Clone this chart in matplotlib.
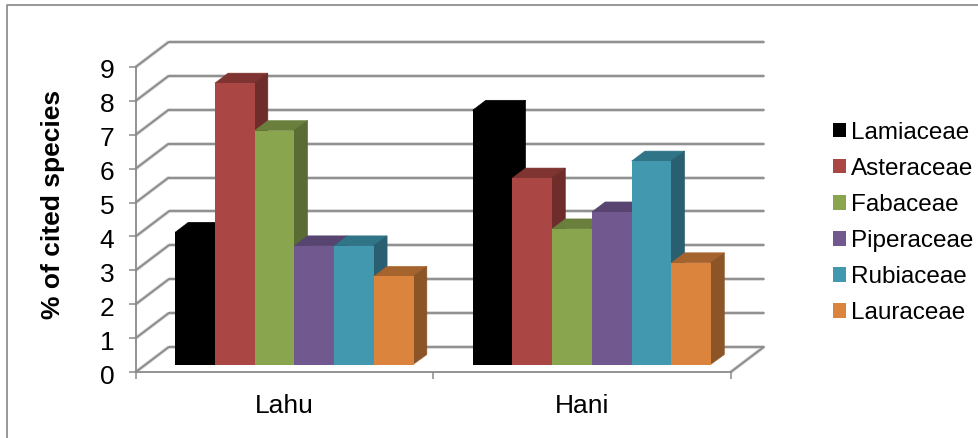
import matplotlib
matplotlib.use("Agg")
import matplotlib.pyplot as plt
from matplotlib.lines import Line2D
from matplotlib.transforms import ScaledTranslation

plt.rcParams["font.family"] = ["Liberation Sans", "DejaVu Sans"]

# Data
groups = ["Lahu", "Hani"]
families = ["Lamiaceae", "Asteraceae", "Fabaceae", "Piperaceae", "Rubiaceae", "Lauraceae"]
lamiaceae = [3.9, 7.5]
asteraceae = [8.3, 5.5]
fabaceae = [6.9, 4.0]
piperaceae = [3.5, 4.5]
rubiaceae = [3.5, 6.0]
lauraceae = [2.6, 3.0]
series = [lamiaceae, asteraceae, fabaceae, piperaceae, rubiaceae, lauraceae]
y_ticks = list(range(10))

# Face colours: front, top, side
front = ["#000000", "#AA4643", "#89A54E", "#71588F", "#4198AF", "#DB843D"]
top = ["#000000", "#803432", "#6A7F3C", "#574470", "#307488", "#A5632E"]
side = ["#000000", "#6E2C2A", "#5A6B33", "#4A3A60", "#295F70", "#8B5528"]

GRID = "#8A8A8A"
GRID_SOFT = "#D4D4D4"

W, H = 979, 438
PX_PER_GROUP = 297.5
PX_PER_UNIT = 33.9
X0, Y0 = 284.5, 372.0

# Oblique projection of the depth axis, in data units
DEPTH_X = 33.0 / PX_PER_GROUP
DEPTH_Y = 25.0 / PX_PER_UNIT
BAR_NEAR, BAR_FAR = 0.3, 0.7
BAR_W = 39.75 / PX_PER_GROUP


def project(x, v, d):
    return x + d * DEPTH_X, v + d * DEPTH_Y


fig = plt.figure(figsize=(W / 100, H / 100), dpi=100, facecolor="white")
ax = fig.add_axes([0, 0, 1, 1])
ax.set_xlim(-X0 / PX_PER_GROUP, (W - X0) / PX_PER_GROUP)
ax.set_ylim((Y0 - H) / PX_PER_UNIT, Y0 / PX_PER_UNIT)
ax.patch.set_visible(False)

left, right = -0.5, 1.5


def wall_line(xs, ys):
    ax.plot(xs, ys, color=GRID_SOFT, lw=2.6, zorder=1, solid_capstyle="butt")
    ax.plot(xs, ys, color=GRID, lw=1.3, zorder=1.1, solid_capstyle="round")


# Back wall gridlines and their run along the side wall
for v in y_ticks:
    bx0, by = project(left, v, 1)
    bx1, _ = project(right, v, 1)
    wall_line([left, bx0], [v, by])
    wall_line([bx0, bx1], [by, by])
# Floor edge on the right
fx, fy = project(right, 0, 1)
wall_line([right, fx], [0, fy])

# Bars: each one is a front face with top and side faces behind it
handles = []
n = len(series)
for i, (vals, fc, tc, sc) in enumerate(zip(series, front, top, side)):
    z = 2 + i
    for g, v in enumerate(vals):
        cx = g + (i - (n - 1) / 2) * BAR_W
        x0 = cx - BAR_W / 2
        x1 = cx + BAR_W / 2
        _, base_y = project(x0, 0, BAR_NEAR)
        fx0, top_y = project(x0, v, BAR_NEAR)
        fx1, _ = project(x1, v, BAR_NEAR)
        bx0, back_top = project(x0, v, BAR_FAR)
        bx1, back_base = project(x1, 0, BAR_FAR)
        ax.fill([fx0, bx0, bx1, fx1], [top_y, back_top, back_top, top_y],
                facecolor=tc, edgecolor=tc, lw=0.4, zorder=z)
        # The side face starts just inside the front face so no seam shows
        inner = fx1 - 0.6 / PX_PER_GROUP
        ax.fill([inner, bx1, bx1, inner], [top_y, back_top, back_base, base_y],
                facecolor=sc, edgecolor=sc, lw=0.4, zorder=z)
    xs = [g + (i - (n - 1) / 2) * BAR_W + BAR_NEAR * DEPTH_X for g in range(len(vals))]
    bars = ax.bar(xs, vals, width=BAR_W, bottom=BAR_NEAR * DEPTH_Y, color=fc, lw=0,
                  zorder=z + 0.5, label=families[i])
    handles.append(bars)

# Axes
for name in ("top", "right"):
    ax.spines[name].set_visible(False)
for name in ("left", "bottom"):
    ax.spines[name].set_color(GRID)
    ax.spines[name].set_linewidth(1.3)
ax.spines["left"].set_position(("data", left))
ax.spines["left"].set_bounds(0, 9)
ax.spines["bottom"].set_position(("data", 0))
ax.spines["bottom"].set_bounds(left, right)

ax.set_yticks(y_ticks)
ax.tick_params(axis="y", direction="out", length=5, width=1.1, color=GRID,
               pad=10.5, labelsize=19, labelcolor="black")
ax.set_xticks([-0.5, 0.5, 1.5])
ax.set_xticklabels([])
ax.set_xticks([0, 1], labels=groups, minor=True)
ax.tick_params(axis="x", which="major", direction="out", length=5, width=1.1, color=GRID)
ax.tick_params(axis="x", which="minor", length=0, pad=16, labelsize=19, labelcolor="black")

# Nudge the value labels down so the digits sit centred on their ticks
nudge = ScaledTranslation(0, -1.5 / 72, fig.dpi_scale_trans)
for label in ax.get_yticklabels():
    label.set_transform(label.get_transform() + nudge)

fig.text(53 / W, 1 - 204 / H, "% of cited species", rotation=90, fontsize=19,
         fontweight="bold", ha="center", va="center", color="black")

ax.legend(handles=handles, labels=families, loc="center left",
          bbox_to_anchor=(833 / W, 1 - 223 / H), bbox_transform=fig.transFigure,
          frameon=False, fontsize=17.5, borderpad=0, borderaxespad=0,
          handlelength=0.53, handleheight=0.53, handletextpad=0.2,
          labelspacing=0.58)

# Outer chart frame, open at the bottom and right
fig.add_artist(Line2D([7.5 / W, 7.5 / W, 1], [0, 1 - 5 / H, 1 - 5 / H],
                      color="#868686", lw=1.2))

fig.savefig("out.png", dpi=100, facecolor="white")
